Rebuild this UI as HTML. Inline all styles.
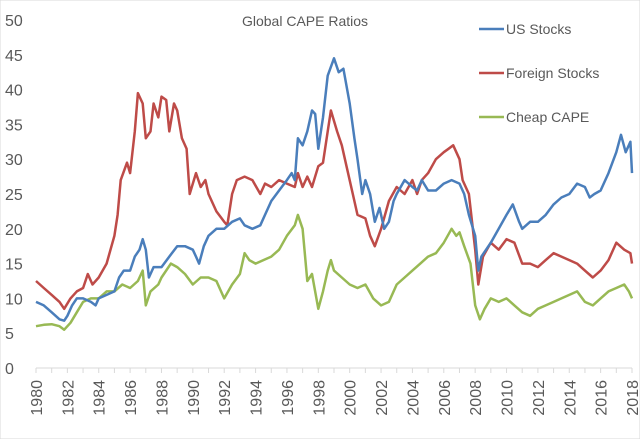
<!DOCTYPE html>
<html><head><meta charset="utf-8"><style>
body{margin:0;background:#fff}
svg{display:block;font-family:"Liberation Sans",sans-serif}
</style></head><body>
<svg id="chart" width="640" height="439" viewBox="0 0 640 439">
<rect x="0" y="0" width="640" height="439" fill="#fff" stroke="#d9d9d9"/>
<text x="305" y="26" text-anchor="middle" font-size="14" fill="#595959">Global CAPE Ratios</text>
<g id="yaxis"></g>
<g id="xaxis"></g>
<g id="series"></g>
<g>
<line x1="479" y1="29" x2="504" y2="29" stroke="#4a7ebb" stroke-width="2.5"/>
<text x="506" y="34" font-size="14" fill="#595959">US Stocks</text>
<line x1="479" y1="73" x2="504" y2="73" stroke="#be4b48" stroke-width="2.5"/>
<text x="506" y="78" font-size="14" fill="#595959">Foreign Stocks</text>
<line x1="479" y1="117" x2="504" y2="117" stroke="#98b954" stroke-width="2.5"/>
<text x="506" y="122" font-size="14" fill="#595959">Cheap CAPE</text>
</g>
</svg>
<script>
const yTicks=[0,5,10,15,20,25,30,35,40,45,50];
const xTickYears=[1980,1982,1984,1986,1988,1990,1992,1994,1996,1998,2000,2002,2004,2006,2008,2010,2012,2014,2016,2018];
const usT=[1980,1980.5,1981,1981.5,1981.8,1982,1982.3,1982.6,1983,1983.5,1983.8,1984,1984.5,1985,1985.3,1985.6,1986,1986.3,1986.6,1986.8,1987,1987.2,1987.5,1988,1988.5,1989,1989.5,1990,1990.2,1990.4,1990.7,1991,1991.5,1992,1992.5,1993,1993.3,1993.8,1994.3,1994.6,1995,1995.5,1996,1996.3,1996.5,1996.7,1997,1997.3,1997.6,1997.8,1998,1998.3,1998.6,1999,1999.3,1999.6,2000,2000.3,2000.5,2000.8,2001,2001.3,2001.6,2001.9,2002.2,2002.5,2002.8,2003,2003.5,2004,2004.3,2004.6,2005,2005.5,2006,2006.5,2007,2007.3,2007.6,2008,2008.2,2008.4,2009,2009.5,2010,2010.4,2010.8,2011,2011.5,2012,2012.5,2013,2013.5,2014,2014.5,2015,2015.3,2015.6,2016,2016.5,2017,2017.3,2017.6,2017.9,2018];
const usV=[9.5,9,8,7,6.8,7.5,9,10,10,9.5,9,10,10.5,11,13,14,14,16,17,18.5,17,13,14.5,14.5,16,17.5,17.5,17,16,15,17.5,19,20,20,21,21.5,20.5,20,20.5,22,24,25.5,27,28,27,33,32,34,37,36.5,31.5,36,42,44.5,42.5,43,38,33,30,25,27,25,21,23,20,21,24,25,27,26,25.5,27,25.5,25.5,26.5,27,26.5,25,22,19,14,16,18,20,22,23.5,21,20,21,21,22,23.5,24.5,25,26.5,26,24.5,25,25.5,28,31,33.5,31,32.5,28];
const frT=[1980,1980.5,1981,1981.5,1981.8,1982.2,1982.6,1983,1983.3,1983.6,1984,1984.5,1985,1985.2,1985.4,1985.8,1986,1986.3,1986.5,1986.8,1987,1987.3,1987.5,1987.8,1988,1988.3,1988.5,1988.8,1989,1989.3,1989.6,1989.8,1990.2,1990.5,1990.8,1991,1991.5,1992,1992.2,1992.5,1992.8,1993.3,1993.8,1994.3,1994.6,1995,1995.5,1996,1996.5,1996.7,1997,1997.3,1997.6,1998,1998.3,1998.6,1998.8,1999.2,1999.5,1999.8,2000.2,2000.5,2001,2001.3,2001.6,2002,2002.5,2003,2003.5,2004,2004.3,2004.6,2005,2005.5,2006,2006.3,2006.6,2007,2007.2,2007.6,2008,2008.2,2008.5,2009,2009.5,2010,2010.5,2011,2011.5,2012,2012.5,2013,2013.5,2014,2014.5,2015,2015.5,2016,2016.5,2017,2017.5,2017.9,2018];
const frV=[12.5,11.5,10.5,9.5,8.5,10,11,11.5,13.5,12,13,15,19,22,27,29.5,28,34,39.5,38,33,34,38,36,39,38.5,34,38,37,33,31.5,25,28,26,27,25,22.5,21,20.5,25,27,27.5,27,25,26.5,26,27,26.5,26,28,26,27.5,26,29,29.5,34,37,34,32,29,25,22,21.5,19,17.5,20,24,26,25,27,25,27,28,30,31,31.5,32,30,27,25,17,12,16,18,17,18.5,18,15,15,14.5,15.5,16.5,16,15.5,15,14,13,14,15.5,18,17,16.5,15];
const chT=[1980,1980.5,1981,1981.5,1981.8,1982.2,1982.6,1983,1983.5,1984,1984.5,1985,1985.5,1986,1986.5,1986.8,1987,1987.3,1987.8,1988,1988.6,1989,1989.5,1990,1990.5,1991,1991.5,1992,1992.5,1993,1993.3,1993.6,1994,1994.5,1995,1995.5,1996,1996.5,1996.7,1997,1997.3,1997.6,1998,1998.3,1998.6,1998.8,1999,1999.5,2000,2000.5,2001,2001.5,2002,2002.5,2003,2003.5,2004,2004.5,2005,2005.5,2006,2006.5,2006.8,2007,2007.3,2007.7,2008,2008.3,2008.6,2009,2009.5,2010,2010.5,2011,2011.5,2012,2012.5,2013,2013.5,2014,2014.5,2015,2015.5,2016,2016.5,2017,2017.5,2017.8,2018];
const chV=[6,6.2,6.3,6,5.5,6.5,8,9.5,10,10,11,11,12,11.5,12.5,14,9,11,12,13,15,14.5,13.5,12,13,13,12.5,10,12,13.5,16.5,15.5,15,15.5,16,17,19,20.5,22,20,12.5,13.5,8.5,11,14,15.5,14,13,12,11.5,12,10,9,9.5,12,13,14,15,16,16.5,18,20,19,19.5,17.5,15,9,7,8.5,10,9.5,10,9,8,7.5,8.5,9,9.5,10,10.5,11,9.5,9,10,11,11.5,12,11,10];

const X0=36,X1=632,Y0=368,Y50=20;
const xs=y=>X0+(y-1980)/(2018-1980)*(X1-X0);
const ys=v=>Y0-v/50*(Y0-Y50);
const NS="http://www.w3.org/2000/svg";
const ya=document.getElementById('yaxis'),xa=document.getElementById('xaxis'),sg=document.getElementById('series');
yTicks.forEach(t=>{
  const e=document.createElementNS(NS,'text');
  
  
  e.setAttribute('x',5);e.setAttribute('y',ys(t)+6);e.setAttribute('font-size','16');e.setAttribute('fill','#595959');
  e.textContent=t;ya.appendChild(e);
});
const ax=document.createElementNS(NS,'line');


ax.setAttribute('x1',X0);ax.setAttribute('x2',X1);ax.setAttribute('y1',Y0);ax.setAttribute('y2',Y0);ax.setAttribute('stroke','#d9d9d9');xa.appendChild(ax);
for(let y=1980;y<=2018;y++){
  const t=document.createElementNS(NS,'line');
  
  
  t.setAttribute('x1',xs(y));t.setAttribute('x2',xs(y));t.setAttribute('y1',Y0);t.setAttribute('y2',Y0+5);t.setAttribute('stroke','#d9d9d9');xa.appendChild(t);
}
xTickYears.forEach(y=>{
  const e=document.createElementNS(NS,'text');
  
  
  const x=xs(y)+6,yy=380;
  e.setAttribute('x',x);e.setAttribute('y',yy);e.setAttribute('text-anchor','end');e.setAttribute('font-size','16');e.setAttribute('fill','#595959');
  e.setAttribute('transform',`rotate(-90 ${x} ${yy})`);
  e.textContent=y;xa.appendChild(e);
});
function line(T,V,color,name){
  const p=document.createElementNS(NS,'polyline');
  
  
  p.setAttribute('points',T.map((t,i)=>xs(t).toFixed(1)+','+ys(V[i]).toFixed(1)).join(' '));
  p.setAttribute('fill','none');p.setAttribute('stroke',color);p.setAttribute('stroke-width','2.5');p.setAttribute('stroke-linejoin','round');
  sg.appendChild(p);
}
line(chT,chV,'#98b954','cheap-cape-line');
line(frT,frV,'#be4b48','foreign-stocks-line');
line(usT,usV,'#4a7ebb','us-stocks-line');
</script>
</body></html>
